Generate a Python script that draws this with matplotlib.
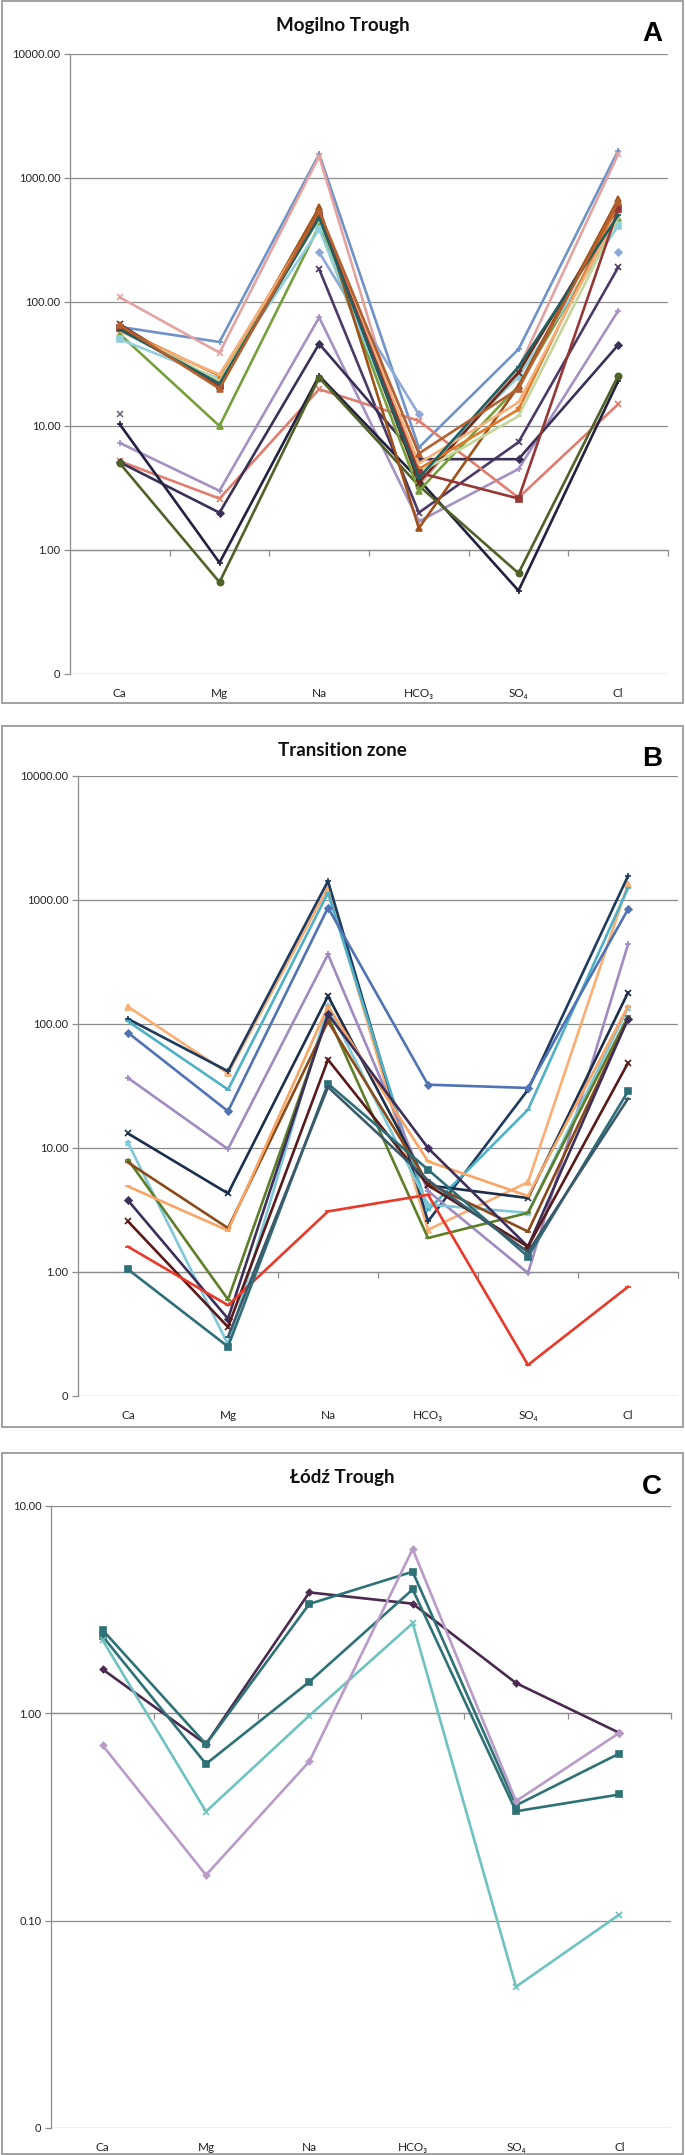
import numpy as np
import matplotlib
matplotlib.use("Agg")
import matplotlib.pyplot as plt
from matplotlib.patches import Rectangle

plt.rcParams['font.family'] = ['Lato', 'DejaVu Sans']

nan = np.nan
categories = ["Ca", "Mg", "Na", "HCO\u2083", "SO\u2084", "Cl"]

# ---------------- Panel A: Mogilno Trough ----------------
mog_01 = [63, 47.6, 1560, 6.7, 41.6, 1660]
mog_02 = [109, 39, 1500, 3.3, 29, 1560]
mog_03 = [nan, nan, 251, 12.4, nan, 251]
mog_04 = [nan, nan, 184, 2.0, 7.4, 190]
mog_05 = [7.3, 3.0, 75, 1.7, 4.5, 85]
mog_06 = [5.2, 2.6, 19.8, 11, 2.64, 15]
mog_07 = [5.1, 2.0, 46, 5.4, 5.4, 45]
mog_08 = [10.3, 0.79, 25.4, 3.7, 0.47, 23]
mog_09 = [5.0, 0.55, 24.5, 3.3, 0.65, 25.4]
mog_10 = [12.4, nan, nan, nan, nan, nan]
mog_11 = [55, 10, 412, 3.0, 21, 480]
mog_12 = [50, 24, 387, 4.0, 25, 412]
mog_13 = [66, 21, 528, 3.5, 27, 580]
mog_14 = [64, 22.3, 580, 1.5, 21, 676]
mog_15 = [61, 25.4, 520, 4.5, 13.6, 620]
mog_16 = [58, 26, 500, 5.0, 15.5, 520]
mog_17 = [60, 23, 470, 4.2, 12, 480]
mog_18 = [62, 21, 500, 4.2, 2.6, 560]
mog_19 = [60, 22, 480, 3.8, 30, 500]
mog_20 = [65, 20, 540, 6.0, 20, 640]

# ---------------- Panel B: Transition zone ----------------
tra_01 = [138, 40, 1260, 2.19, 5.3, 1340]
tra_02 = [110, 41.6, 1420, 2.56, 29.5, 1560]
tra_03 = [105, 29.6, 1140, 3.16, 20.4, 1250]
tra_04 = [85, 19.8, 867, 32.4, 30.5, 841]
tra_05 = [36.7, 9.8, 364, 4.5, 0.98, 438]
tra_06 = [13.1, 4.3, 168, 5.0, 3.95, 179]
tra_07 = [11, 0.26, 139, 3.5, 3.0, 135]
tra_08 = [8.05, 0.6, 115, 1.88, 3.0, 115]
tra_09 = [7.65, 2.26, 105, 5.2, 2.12, 109]
tra_10 = [4.9, 2.16, 139, 7.8, 4.1, 139]
tra_11 = [3.78, 0.42, 120, 10, 1.6, 110]
tra_12 = [2.56, 0.36, 51.6, 5.0, 1.6, 48.5]
tra_13 = [1.6, 0.54, 3.08, 4.2, 0.178, 0.76]
tra_14 = [1.05, 0.25, 33, 6.7, 1.33, 28.6]
tra_15 = [nan, 0.3, 31, 5.5, 1.45, 25]

# ---------------- Panel C: Lodz Trough ----------------
lod_01 = [1.63, 0.71, 3.83, 3.38, 1.40, 0.805]
lod_02 = [2.52, 0.71, 3.37, 4.82, 0.36, 0.64]
lod_03 = [2.35, 0.57, 1.42, 3.96, 0.337, 0.406]
lod_04 = [2.25, 0.336, 0.975, 2.72, 0.048, 0.107]
lod_05 = [0.70, 0.166, 0.586, 6.2, 0.377, 0.805]

# styles (colour, marker, marker size)
style_A = [("#6F93C9", "+", 5), ("#E3A3A1", "x", 5), ("#8EA9D6", "D", 3.5), ("#4B3A66", "x", 5),
           ("#A591C2", "+", 5), ("#E07D6E", "x", 5), ("#3B3056", "D", 3.5), ("#232040", "+", 5),
           ("#4F6228", "o", 4.5), ("#6E6E7E", "x", 5), ("#77A03C", "^", 4), ("#8FD0DC", "s", 4),
           ("#6B2A1A", "x", 5), ("#A0521A", "^", 4), ("#E07A2A", "*", 5), ("#F5B07A", "_", 5),
           ("#C3D69B", "_", 5), ("#953735", "s", 4), ("#1F5F5F", "_", 5), ("#B5602F", "^", 4)]
style_B = [("#F9AE74", "^", 4), ("#1F3A5F", "+", 5), ("#4FB0C6", "_", 5), ("#4F73B4", "D", 3.5),
           ("#A08BC1", "+", 5), ("#1C2E4A", "x", 5), ("#7FC8D8", "*", 5), ("#5E7E2A", "_", 5),
           ("#8B4A1A", "_", 5), ("#F8A565", "_", 5), ("#3D2F5A", "D", 3.5), ("#5A1A1A", "x", 5),
           ("#E8392A", "_", 5), ("#2E6E78", "s", 4), ("#3C5A6A", "_", 5)]
style_C = [("#4A2A4F", "D", 3.2), ("#2F7276", "s", 4.5), ("#2F7276", "s", 4.5), ("#6EC3C1", "x", 4.5),
           ("#B99BC8", "D", 3.2)]

series_A = [mog_01, mog_02, mog_03, mog_04, mog_05, mog_06, mog_07, mog_08, mog_09, mog_10,
            mog_11, mog_12, mog_13, mog_14, mog_15, mog_16, mog_17, mog_18, mog_19, mog_20]
series_B = [tra_01, tra_02, tra_03, tra_04, tra_05, tra_06, tra_07, tra_08, tra_09, tra_10,
            tra_11, tra_12, tra_13, tra_14, tra_15]
series_C = [lod_01, lod_02, lod_03, lod_04, lod_05]

W, H = 685, 2155
fig = plt.figure(figsize=(W / 100, H / 100), dpi=100)
fig.patch.set_facecolor("white")

GRID = "#8c8c8c"


def rect(x0, y0, x1, y1):
    return [x0 / W, 1 - y1 / H, (x1 - x0) / W, (y1 - y0) / H]


def panel(axrect, border, series, styles, ylow, yhigh, ylabels, title, letter, title_y, letter_y,
          lw=1.9, cross=1.0):
    bx0, by0, bx1, by1 = border
    fig.patches.append(Rectangle((bx0 / W, 1 - by1 / H), (bx1 - bx0) / W, (by1 - by0) / H,
                                 transform=fig.transFigure, fill=False,
                                 edgecolor="#9a9a9a", lw=1.3, zorder=0))
    ax = fig.add_axes(axrect)
    x = np.arange(len(categories))
    for vals, (c, m, ms) in zip(series, styles):
        ax.plot(x, vals, color=c, lw=lw, marker=m, ms=ms, mew=1.2, mfc=c, mec=c,
                solid_joinstyle="miter", zorder=3)
    ax.set_yscale("log")
    ax.set_ylim(ylow, yhigh)
    ax.set_xlim(-0.5, len(categories) - 0.5)
    dec = 10.0 ** np.arange(np.log10(ylow), np.log10(yhigh) + 0.5)
    ax.set_yticks(dec)
    ax.set_yticklabels(ylabels)
    ax.yaxis.set_minor_locator(matplotlib.ticker.NullLocator())
    ax.tick_params(axis="y", length=4, width=0.9, color=GRID, labelsize=8, pad=3,
                   labelcolor="#222222")
    ax.grid(axis="y", color=GRID, lw=0.9, zorder=1)
    ax.set_axisbelow(True)
    for s in ("top", "right"):
        ax.spines[s].set_visible(False)
    ax.spines["left"].set_color(GRID)
    ax.spines["left"].set_linewidth(0.9)
    ax.spines["bottom"].set_position(("data", cross))
    ax.spines["bottom"].set_color(GRID)
    ax.spines["bottom"].set_linewidth(0.9)
    ax.set_xticks(x)
    ax.set_xticklabels([])
    ax.tick_params(axis="x", which="major", length=0)
    ax.set_xticks(np.arange(0.5, len(categories)), minor=True)
    ax.tick_params(axis="x", which="minor", length=4, width=0.9, color=GRID, direction="out")
    for i, lab in enumerate(categories):
        ax.annotate(lab, xy=(i, 0), xycoords=("data", "axes fraction"), xytext=(0, -10),
                    textcoords="offset points", ha="center", va="top", fontsize=8.5,
                    color="#222222", annotation_clip=False)
    fig.text(0.5, 1 - title_y / H, title, ha="center", va="center", fontsize=13.5,
             fontweight="bold", color="#111111")
    fig.text(652 / W, 1 - letter_y / H, letter, ha="center", va="center", fontsize=20,
             fontweight="bold", family=["Liberation Sans", "DejaVu Sans"], color="black")
    return ax


labels_AB = ["0", "1.00", "10.00", "100.00", "1000.00", "10000.00"]
labels_C = ["0", "0.10", "1.00", "10.00"]

panel(rect(70, 54, 668, 674), (2, 1, 683, 703), series_A, style_A, 0.1, 10000, labels_AB,
      "Mogilno Trough", "A", 26, 34)
panel(rect(78, 776, 678, 1396), (2, 726, 683, 1427), series_B, style_B, 0.1, 10000, labels_AB,
      "Transition zone", "B", 750, 759)
panel(rect(51, 1506, 671, 2128), (2, 1453, 683, 2154), series_C, style_C, 0.01, 10, labels_C,
      "\u0141\u00f3d\u017a Trough", "C", 1478, 1487)

fig.savefig("out.png", dpi=100)
